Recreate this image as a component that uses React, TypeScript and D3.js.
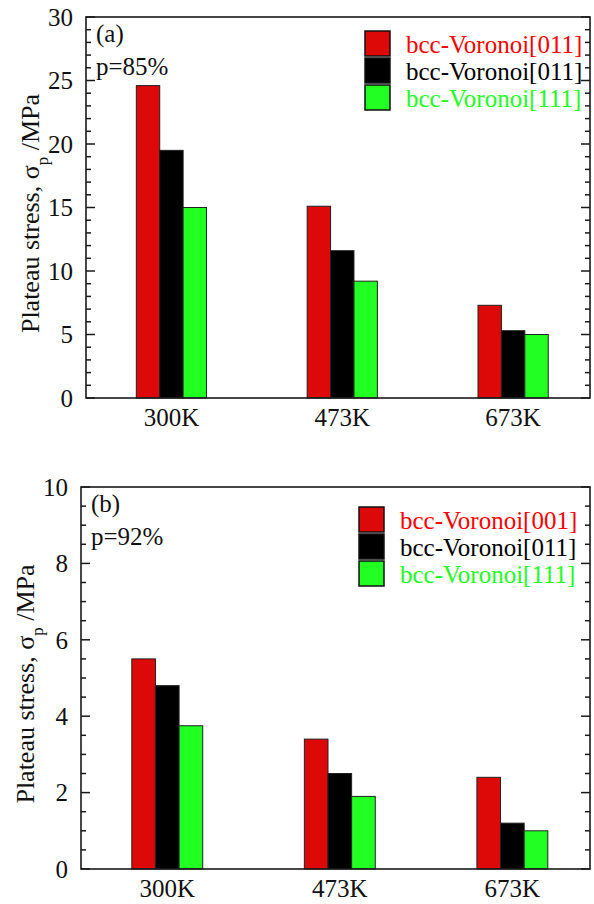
import React from 'react';
import * as d3 from 'd3';

const categories = ['300K', '473K', '673K'];

// panel (a), p = 85%
const aLegend = ['bcc-Voronoi[011]', 'bcc-Voronoi[011]', 'bcc-Voronoi[111]'];
const aRed = [24.6, 15.1, 7.3];
const aBlack = [19.5, 11.6, 5.3];
const aGreen = [15.0, 9.2, 5.0];
const aTicks = [0, 5, 10, 15, 20, 25, 30];

// panel (b), p = 92%
const bLegend = ['bcc-Voronoi[001]', 'bcc-Voronoi[011]', 'bcc-Voronoi[111]'];
const bRed = [5.5, 3.4, 2.4];
const bBlack = [4.8, 2.5, 1.2];
const bGreen = [3.75, 1.9, 1.0];
const bTicks = [0, 2, 4, 6, 8, 10];

const barFill = ['#dd0808', '#000000', '#22ff22'];
const textFill = ['#ff0000', '#000000', '#22ff22'];
const font = '"Times New Roman", Times, "Liberation Serif", Tinos, "Noto Serif", "DejaVu Serif", Georgia, serif';
const axisColor = '#1a1a1a';

interface PanelProps {
  left: number;
  right: number;
  top: number;
  bottom: number;
  yMax: number;
  minorStep: number;
  ticks: number[];
  series: number[][];
  legend: string[];
  tag: string;
  porosity: string;
  legendX: number;
  legendY: number;
}

const Panel: React.FC<PanelProps> = ({
  left, right, top, bottom, yMax, minorStep, ticks, series, legend, tag, porosity, legendX, legendY
}) => {
  const x = d3.scaleLinear().domain([-0.5, 2.45]).range([left, right]);
  const y = d3.scaleLinear().domain([0, yMax]).range([bottom, top]);
  const barW = x(0.137) - x(0);
  const minor = d3.range(0, yMax + minorStep / 2, minorStep);

  return (
    <g>
      {/* bars */}
      {series.map((vals, s) =>
        vals.map((v, i) => (
          <rect
            key={`${s}-${i}`}
            x={x(i) + (s - 1.5) * barW}
            y={y(v)}
            width={barW}
            height={y(0) - y(v)}
            fill={barFill[s]}
            stroke="#222"
            strokeWidth={1}
          />
        ))
      )}

      {/* frame */}
      <rect x={left} y={top} width={right - left} height={bottom - top}
        fill="none" stroke={axisColor} strokeWidth={1.6} />

      {/* ticks left & right */}
      {minor.map(t => {
        const major = ticks.includes(+t.toFixed(3));
        const len = major ? 9 : 5;
        return (
          <g key={t}>
            <line x1={left} x2={left + len} y1={y(t)} y2={y(t)} stroke={axisColor} strokeWidth={1.5} />
            <line x1={right} x2={right - len} y1={y(t)} y2={y(t)} stroke={axisColor} strokeWidth={1.5} />
          </g>
        );
      })}

      {ticks.map(t => (
        <text key={t} x={left - 13} y={y(t)} dy="0.35em" textAnchor="end" fontSize={25} fill="#111" fontFamily={font}>
          {t}
        </text>
      ))}

      {categories.map((c, i) => (
        <text key={c} x={x(i)} y={bottom + 28} textAnchor="middle" fontSize={25} fill="#111" fontFamily={font}>
          {c}
        </text>
      ))}

      {/* y title */}
      <text
        transform={`translate(${left - 47},${(top + bottom) / 2 + 6}) rotate(-90)`}
        textAnchor="middle"
        fontSize={26}
        fill="#111"
        fontFamily={font}
      >
        Plateau stress, σ
        <tspan fontSize={17} dy={9}>p</tspan>
        <tspan dy={-9}> /MPa</tspan>
      </text>

      <text x={left + 10} y={top + 25} fontSize={25} fill="#111" fontFamily={font}>{tag}</text>
      <text x={left + 10} y={top + 58} fontSize={25} fill="#111" fontFamily={font}>{porosity}</text>

      {/* legend */}
      {legend.map((name, s) => (
        <g key={s} transform={`translate(${legendX},${legendY + s * 27})`}>
          <rect x={0} y={0} width={25} height={25} fill={barFill[s]} stroke="#111" strokeWidth={1.5} />
          <text x={41} y={22} fontSize={25} fill={textFill[s]} fontFamily={font}>{name}</text>
        </g>
      ))}
    </g>
  );
};

export default function App() {
  return (
    <svg width={594} height={904} style={{ position: 'absolute', left: 0, top: 0, background: '#fff' }}>
      <Panel
        left={86} right={590} top={17} bottom={398}
        yMax={30} minorStep={1} ticks={aTicks}
        series={[aRed, aBlack, aGreen]} legend={aLegend}
        tag="(a)" porosity="p=85%"
        legendX={365} legendY={31}
      />
      <Panel
        left={81} right={590} top={487} bottom={869}
        yMax={10} minorStep={0.5} ticks={bTicks}
        series={[bRed, bBlack, bGreen]} legend={bLegend}
        tag="(b)" porosity="p=92%"
        legendX={359} legendY={507}
      />
    </svg>
  );
}
